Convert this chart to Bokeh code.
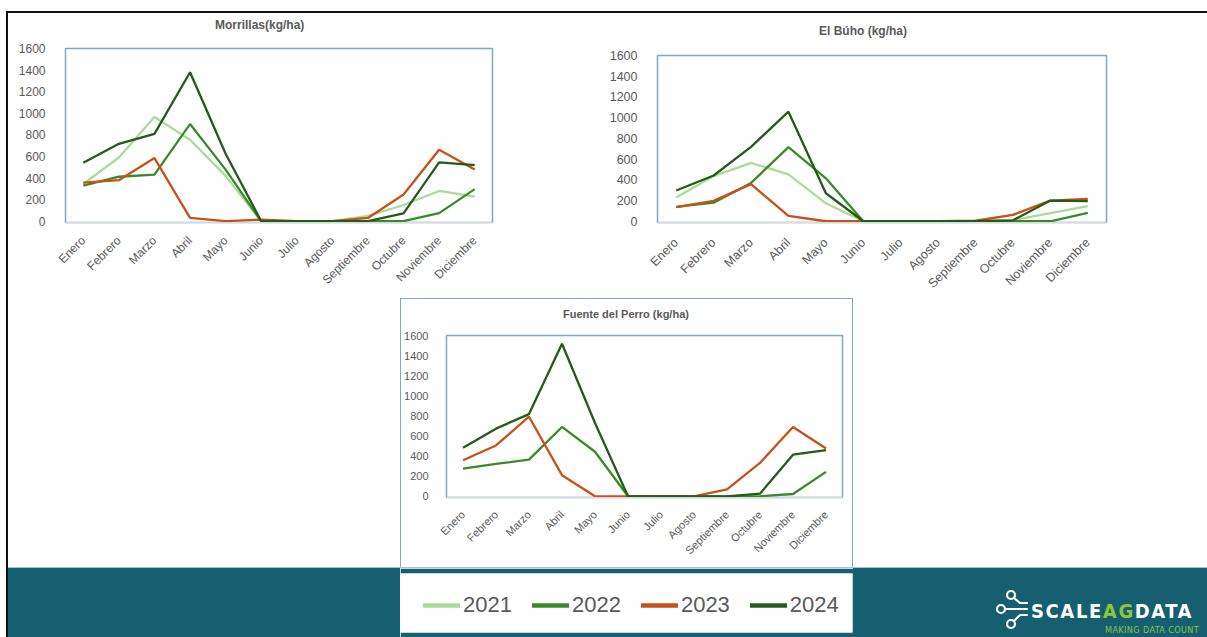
import math
from bokeh.plotting import figure
from bokeh.models import Range1d, FactorRange, Div, Legend, LegendItem, FixedTicker
from bokeh.layouts import row, column
from bokeh.embed import file_html
from bokeh.resources import INLINE

# ---------------- data ----------------
meses = ["Enero", "Febrero", "Marzo", "Abril", "Mayo", "Junio", "Julio",
         "Agosto", "Septiembre", "Octubre", "Noviembre", "Diciembre"]
years = ["2021", "2022", "2023", "2024"]
y_ticks = [0, 200, 400, 600, 800, 1000, 1200, 1400, 1600]

morrillas_2021 = [345, 590, 965, 755, 420, 0, 0, 0, 50, 150, 280, 228]
morrillas_2022 = [330, 412, 432, 900, 478, 0, 0, 0, 0, 0, 75, 297]
morrillas_2023 = [358, 380, 585, 31, 0, 15, 0, 0, 30, 248, 662, 480]
morrillas_2024 = [542, 717, 809, 1380, 625, 0, 0, 0, 0, 72, 545, 520]

buho_2021 = [230, 436, 564, 452, 173, 0, 0, 0, 0, 10, 79, 145]
buho_2022 = [139, 179, 370, 715, 415, 0, 0, 0, 0, 0, 0, 82]
buho_2023 = [136, 197, 358, 52, 0, 0, 0, 0, 5, 61, 200, 215]
buho_2024 = [297, 442, 718, 1058, 270, 0, 0, 0, 0, 9, 200, 194]

perro_2022 = [276, 322, 365, 690, 443, 0, 0, 0, 0, 0, 23, 243]
perro_2023 = [358, 506, 792, 210, 0, 0, 0, 0, 69, 332, 690, 476]
perro_2024 = [483, 673, 818, 1518, 729, 0, 0, 0, 0, 26, 414, 460]

# ---------------- styles ----------------
COLORS = {"2021": "#A9DC96", "2022": "#3B8A2A", "2023": "#C8501A", "2024": "#265A1C"}
TEAL = "#155F71"
FRAME = "#80A9C6"
GREY = "#595959"
FONT = "Liberation Sans"


def block(w, h, color, text=""):
    return Div(text=text, width=w, height=h, margin=0,
               styles={"background-color": color, "overflow": "hidden"})


def title_div(text, w, h, left, center_y, size):
    html = ('<div style="position:relative;width:%dpx;height:%dpx;">'
            '<div style="position:absolute;left:%dpx;top:%dpx;font-family:\'Liberation Sans\',Arial,sans-serif;'
            'font-weight:bold;font-size:%dpx;line-height:14px;color:%s;white-space:nowrap;">%s</div></div>'
            % (w, h, left, center_y - 7, size, GREY, text))
    return block(w, h, "white", html)


def make_chart(series, width, height, borders, tick_size, y_standoff, x_standoff):
    left, right, top, bottom = borders
    p = figure(width=width, height=height, x_range=FactorRange(*meses),
               y_range=Range1d(-12, 1600), toolbar_location=None,
               output_backend="svg", min_border_left=left, min_border_right=right,
               min_border_top=top, min_border_bottom=bottom)
    for yr, vals in series:
        p.line(x=meses, y=vals, line_color=COLORS[yr], line_width=2.3)
    p.xgrid.visible = False
    p.ygrid.visible = False
    p.outline_line_color = FRAME
    p.outline_line_width = 1.5
    p.yaxis.ticker = FixedTicker(ticks=y_ticks)
    p.yaxis.axis_line_color = None
    p.yaxis.major_tick_line_color = None
    p.yaxis.minor_tick_line_color = None
    p.yaxis.major_label_standoff = y_standoff
    p.yaxis.major_label_text_font_size = tick_size
    p.yaxis.major_label_text_color = GREY
    p.yaxis.major_label_text_font = FONT
    p.xaxis.axis_line_color = "#D9D9D9"
    p.xaxis.major_tick_line_color = None
    p.xaxis.major_label_orientation = math.pi / 4
    p.xaxis.major_label_standoff = x_standoff
    p.xaxis.major_label_text_font_size = tick_size
    p.xaxis.major_label_text_color = GREY
    p.xaxis.major_label_text_font = FONT
    return p


fig1 = make_chart([("2021", morrillas_2021), ("2022", morrillas_2022),
                   ("2023", morrillas_2023), ("2024", morrillas_2024)],
                  567, 261, (57, 83, 11, 76), "12px", 14, 10)
fig2 = make_chart([("2021", buho_2021), ("2022", buho_2022),
                   ("2023", buho_2023), ("2024", buho_2024)],
                  632, 255, (82, 101, 12, 67), "12.5px", 14, 12)
fig3 = make_chart([("2022", perro_2022), ("2023", perro_2023), ("2024", perro_2024)],
                  451, 244, (43, 10, 12, 70), "11px", 12, 9)

t1 = title_div("Morrillas(kg/ha)", 567, 24, 207, 12, 12)
t2 = title_div("El Búho (kg/ha)", 632, 30, 244, 18, 12)
t3 = title_div("Fuente del Perro (kg/ha)", 451, 24, 162, 15, 11)

# ---------------- legend ----------------
lf = figure(width=453, height=69, x_range=FactorRange(*meses), y_range=Range1d(5000, 6000),
            x_axis_type=None, y_axis_type=None, toolbar_location=None,
            output_backend="svg", min_border_top=5, min_border_bottom=5,
            min_border_left=0, min_border_right=1)
lf.grid.visible = False
lf.outline_line_color = None
lf.background_fill_color = "white"
lf.border_fill_color = TEAL
items = []
for yr, vals in zip(years, [morrillas_2021, morrillas_2022, morrillas_2023, morrillas_2024]):
    r = lf.line(x=meses, y=vals, line_color=COLORS[yr], line_width=4.5, line_cap="round")
    items.append(LegendItem(label=yr, renderers=[r]))
legend = Legend(items=items, orientation="horizontal", location=(23, 14),
                glyph_width=37, glyph_height=22, label_standoff=3, spacing=20,
                label_text_font_size="22px", label_text_color=GREY,
                label_text_font=FONT, border_line_color=None,
                background_fill_alpha=0, padding=0, margin=0)
lf.add_layout(legend, "center")

logo_html = """
<div style="position:relative;width:354px;height:69px;">
<svg style="position:absolute;left:0;top:0" width="354" height="69">
  <g fill="none" stroke="white" stroke-width="2.2" stroke-linecap="round">
    <circle cx="158" cy="27" r="4"/>
    <circle cx="148" cy="41" r="4"/>
    <circle cx="158" cy="56" r="4"/>
    <path d="M161 30 L167 35 L174 35"/>
    <path d="M152 41 L174 41"/>
    <path d="M161 53 L167 47 L174 47"/>
  </g>
</svg>
<div style="position:absolute;left:178px;top:33px;font-family:'DejaVu Sans Condensed','DejaVu Sans';font-stretch:condensed;font-weight:bold;font-size:20px;line-height:1;color:white;letter-spacing:1.6px;white-space:nowrap;">SCALE<span style="color:#8DC63F">AG</span>DATA</div>
<div style="position:absolute;left:252px;top:58px;font-family:'DejaVu Sans Condensed','DejaVu Sans';font-stretch:condensed;font-size:9px;line-height:1;color:#8DC63F;letter-spacing:0.4px;white-space:nowrap;">MAKING DATA COUNT</div>
</div>
"""

row_a = row(column(t1, fig1, spacing=0), column(t2, fig2, spacing=0), spacing=0)
chart3_box = row(block(1, 269, FRAME),
                 column(block(451, 1, FRAME), t3, fig3, spacing=0),
                 block(1, 269, FRAME), spacing=0)
row_b = row(block(392, 269, "white"), chart3_box, block(354, 269, "white"), spacing=0)
sep = block(1199, 1, "#A9C1CD")
row_c = row(block(392, 69, TEAL), lf, block(354, 69, TEAL, logo_html), spacing=0)
content = column(row_a, row_b, sep, row_c, spacing=0)

page = column(
    block(1207, 11, "white"),
    row(block(6, 2, "white"), block(1201, 2, "#111111"), spacing=0),
    row(block(6, 624, "white"), block(2, 624, "#111111"), content, spacing=0),
    spacing=0,
)

open("out.html", "w").write(file_html(page, INLINE, title="Rendimiento mensual"))
